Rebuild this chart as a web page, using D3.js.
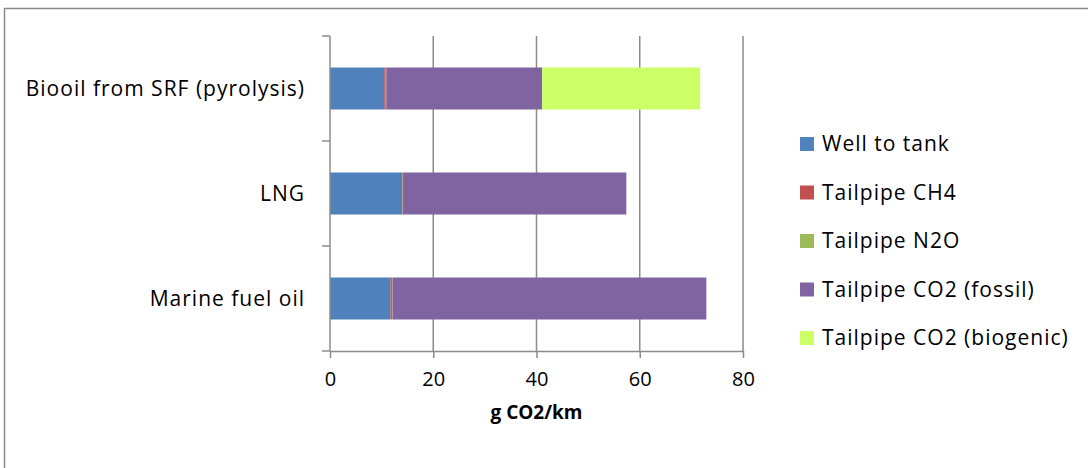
<!DOCTYPE html>
<html>
<head>
<meta charset="utf-8">
<script src="https://cdn.jsdelivr.net/npm/d3@7"></script>
<style>
  body { margin: 0; background: #fff; }
  text { font-family: "Open Sans", sans-serif; fill: #000; }
</style>
</head>
<body>
<svg id="chart" width="1088" height="468"></svg>
<script>
const categories = ["Biooil from SRF (pyrolysis)", "LNG", "Marine fuel oil"];
const seriesNames = ["Well to tank", "Tailpipe CH4", "Tailpipe N2O", "Tailpipe CO2 (fossil)", "Tailpipe CO2 (biogenic)"];
const seriesColors = ["#4f81bd", "#c0504d", "#9bbb59", "#8064a2", "#ccff66"];
const wellToTank = [10.5, 14.0, 11.7];
const tailpipeCH4 = [0.3, 0.1, 0.3];
const tailpipeN2O = [0.1, 0.05, 0.1];
const co2Fossil = [30.2, 43.25, 60.8];
const co2Biogenic = [30.6, 0, 0];
const xTicks = [0, 20, 40, 60, 80];

const data = categories.map((c, i) => ({
  category: c,
  "Well to tank": wellToTank[i],
  "Tailpipe CH4": tailpipeCH4[i],
  "Tailpipe N2O": tailpipeN2O[i],
  "Tailpipe CO2 (fossil)": co2Fossil[i],
  "Tailpipe CO2 (biogenic)": co2Biogenic[i]
}));

const svg = d3.select("#chart");

// outer chart frame (runs off the right and bottom edges)
svg.append("rect")
  .attr("x", 4.5).attr("y", 8.5)
  .attr("width", 1200).attr("height", 600)
  .attr("fill", "none").attr("stroke", "#8a8a8a").attr("stroke-width", 1.5);

const plotL = 330, plotR = 743, plotT = 36, plotB = 351;

const x = d3.scaleLinear().domain([0, 80]).range([plotL, plotR]);
const y = d3.scaleBand().domain(categories).range([plotT, plotB]).paddingInner(0.6).paddingOuter(0.3);

// gridlines
svg.append("g")
  .selectAll("line")
  .data(xTicks.slice(1))
  .join("line")
  .attr("x1", d => x(d)).attr("x2", d => x(d))
  .attr("y1", plotT).attr("y2", plotB)
  .attr("stroke", "#8c8c8c").attr("stroke-width", 1.5);

const stacked = d3.stack().keys(seriesNames)(data);
const color = d3.scaleOrdinal().domain(seriesNames).range(seriesColors);

svg.append("g")
  .selectAll("g")
  .data(stacked)
  .join("g")
  .attr("fill", d => color(d.key))
  .selectAll("rect")
  .data(d => d)
  .join("rect")
  .attr("x", d => x(d[0]))
  .attr("width", d => Math.max(0, x(d[1]) - x(d[0])))
  .attr("y", d => y(d.data.category))
  .attr("height", y.bandwidth());

// y axis
const yEdges = d3.range(categories.length + 1).map(i => plotT + i * (plotB - plotT) / categories.length);
svg.append("line")
  .attr("x1", plotL).attr("x2", plotL).attr("y1", plotT).attr("y2", plotB)
  .attr("stroke", "#8c8c8c").attr("stroke-width", 1.5);
svg.append("g")
  .selectAll("line")
  .data(yEdges)
  .join("line")
  .attr("x1", plotL - 8).attr("x2", plotL)
  .attr("y1", d => d).attr("y2", d => d)
  .attr("stroke", "#8c8c8c").attr("stroke-width", 1.5);

svg.append("g")
  .selectAll("text")
  .data(categories)
  .join("text")
  .attr("x", plotL - 25)
  .attr("y", d => y(d) + y.bandwidth() / 2)
  .attr("dy", "0.35em")
  .attr("text-anchor", "end")
  .attr("font-size", 21)
  .attr("letter-spacing", 1)
  .text(d => d);

// x axis
const xAxis = svg.append("g")
  .attr("transform", `translate(0,${plotB})`)
  .call(d3.axisBottom(x).tickValues(xTicks).tickSize(7).tickSizeOuter(0).tickPadding(14));
xAxis.select(".domain").attr("stroke", "#8c8c8c").attr("stroke-width", 1.5);
xAxis.selectAll(".tick line").attr("stroke", "#8c8c8c").attr("stroke-width", 1.5);
xAxis.selectAll(".tick text").attr("font-size", 20).attr("font-family", "'Open Sans', sans-serif").attr("fill", "#000");

svg.append("text")
  .attr("x", (plotL + plotR) / 2)
  .attr("y", 419)
  .attr("text-anchor", "middle")
  .attr("font-size", 19)
  .attr("font-weight", "bold")
  .text("g CO2/km");

// legend
const legend = svg.append("g").attr("transform", "translate(800,144)");
const item = legend.selectAll("g")
  .data(seriesNames)
  .join("g")
  .attr("transform", (d, i) => `translate(0,${i * 48.5})`);
item.append("rect")
  .attr("x", 0).attr("y", -7)
  .attr("width", 14).attr("height", 14)
  .attr("fill", d => color(d));
item.append("text")
  .attr("x", 22).attr("y", 0)
  .attr("dy", "0.35em")
  .attr("font-size", 21)
  .attr("letter-spacing", 1)
  .text(d => d);
</script>
</body>
</html>
